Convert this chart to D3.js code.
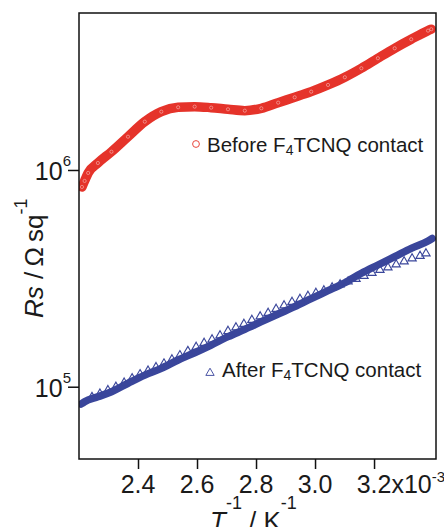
<!DOCTYPE html>
<html>
<head>
<meta charset="utf-8">
<script src="https://cdn.jsdelivr.net/npm/d3@7"></script>
<style>
body{margin:0;background:#fff;}
svg{display:block;font-family:"Liberation Sans",Arial,sans-serif;}
</style>
</head>
<body>
<svg id="rsChart"></svg>
<script>
// T^-1 in units of 1e-3 K^-1, Rs in ohm/sq
var beforeT  = [2.210,2.219,2.231,2.264,2.310,2.366,2.423,2.479,2.536,2.592,2.648,2.705,2.762,2.818,2.875,2.931,2.987,3.044,3.101,3.157,3.213,3.270,3.326,3.383,3.394];
var beforeRs = [8.35e5,8.90e5,9.69e5,1.077e6,1.214e6,1.424e6,1.671e6,1.858e6,1.947e6,1.960e6,1.939e6,1.906e6,1.878e6,1.926e6,2.045e6,2.165e6,2.298e6,2.468e6,2.678e6,2.947e6,3.278e6,3.644e6,4.010e6,4.394e6,4.461e6];

// after contact, dense sweep
var afterT  = [2.207,2.219,2.264,2.310,2.366,2.423,2.479,2.536,2.592,2.648,2.705,2.762,2.818,2.875,2.931,2.987,3.044,3.101,3.157,3.213,3.270,3.326,3.383,3.397];
var afterRs = [8.32e4,8.53e4,8.99e4,9.48e4,1.037e5,1.132e5,1.216e5,1.328e5,1.435e5,1.557e5,1.701e5,1.840e5,1.995e5,2.165e5,2.340e5,2.548e5,2.773e5,3.019e5,3.337e5,3.644e5,3.980e5,4.352e5,4.704e5,4.830e5];

// after contact, second sweep (open triangles)
var afterT2  = [2.244,2.271,2.298,2.325,2.353,2.380,2.407,2.434,2.461,2.488,2.515,2.542,2.569,2.597,2.624,2.651,2.678,2.705,2.732,2.759,2.786,2.814,2.841,2.868,2.895,2.922,2.949,2.976,3.003,3.030,3.058,3.085,3.112,3.139,3.166,3.193,3.220,3.247,3.275,3.302,3.329,3.356,3.376];
var afterRs2 = [8.95e4,9.28e4,9.63e4,9.98e4,1.043e5,1.092e5,1.140e5,1.185e5,1.230e5,1.278e5,1.335e5,1.396e5,1.459e5,1.525e5,1.591e5,1.651e5,1.723e5,1.807e5,1.876e5,1.947e5,2.032e5,2.109e5,2.189e5,2.284e5,2.370e5,2.460e5,2.539e5,2.621e5,2.706e5,2.779e5,2.870e5,2.962e5,3.057e5,3.141e5,3.242e5,3.347e5,3.456e5,3.549e5,3.664e5,3.782e5,3.905e5,4.010e5,4.118e5];

var xTicks = [2.4,2.6,2.8,3.0,3.2];
var xTickLabels = ["2.4","2.6","2.8","3.0","3.2"];
var yTicks = [1e5,1e6];
var yTickExp = ["5","6"];
var seriesNames = ["Before F","After F"];

drawRs("#rsChart");

function drawRs(id){
	var svgWidth = 444, svgHeight = 527;
	var left = 79, top = 13, right = 436, bottom = 459;
	var red = "#e5332a", blue = "#3a469b";

	var svg = d3.select(id).attr("width",svgWidth).attr("height",svgHeight);

	var x = d3.scaleLinear().domain([2.2,3.41]).range([left,right]);
	var y = d3.scaleLog().domain([4.64e4,5.3e6]).range([bottom,top]);

	svg.append("clipPath").attr("id","plotClip")
	   .append("rect").attr("x",left).attr("y",top).attr("width",right-left).attr("height",bottom-top);

	var plot = svg.append("g").attr("clip-path","url(#plotClip)");
	var line = d3.line()
		.x(function(d){ return x(d[0]); })
		.y(function(d){ return y(d[1]); })
		.curve(d3.curveMonotoneX);

	var before = d3.zip(beforeT,beforeRs);
	var after = d3.zip(afterT,afterRs);
	var after2 = d3.zip(afterT2,afterRs2);

	// red band of overlapping open circles
	plot.append("path").datum(before)
		.attr("d",line).attr("fill","none").attr("stroke",red)
		.attr("stroke-width",9.5).attr("stroke-linecap","round").attr("stroke-linejoin","round");
	plot.selectAll("circle.before").data(before).enter()
		.append("circle").attr("class","before")
		.attr("cx",function(d){ return x(d[0]); })
		.attr("cy",function(d){ return y(d[1]); })
		.attr("r",1.6).attr("fill","none").attr("stroke","#fff")
		.attr("stroke-width",0.7).attr("opacity",0.55);

	// blue dense sweep
	plot.append("path").datum(after)
		.attr("d",line).attr("fill","none").attr("stroke",blue)
		.attr("stroke-width",7.5).attr("stroke-linecap","round").attr("stroke-linejoin","round");

	// blue open triangles
	var tri = d3.symbol().type(d3.symbolTriangle).size(30);
	plot.selectAll("path.after2").data(after2).enter()
		.append("path").attr("class","after2")
		.attr("d",tri)
		.attr("transform",function(d){ return "translate(" + x(d[0]) + "," + y(d[1]) + ")"; })
		.attr("fill","none").attr("stroke",blue).attr("stroke-width",1.1);

	// frame
	svg.append("rect").attr("x",left).attr("y",top)
		.attr("width",right-left).attr("height",bottom-top)
		.attr("fill","none").attr("stroke","#111").attr("stroke-width",1.5);

	// x axis
	var xAxis = svg.append("g").attr("transform","translate(0," + bottom + ")")
		.call(d3.axisBottom(x).tickValues(xTicks).tickSize(10).tickSizeOuter(0).tickFormat(""));
	xAxis.select(".domain").remove();
	xAxis.selectAll(".tick line").attr("stroke","#111").attr("stroke-width",1.5);
	xAxis.selectAll(".tick text").remove();
	xTicks.forEach(function(v,i){
		var t = svg.append("text").attr("y",493).attr("font-size","25px").attr("fill","#1a1a1a");
		if(i < xTicks.length-1){
			t.attr("x",x(v)).attr("text-anchor","middle").text(xTickLabels[i]);
		} else {
			t.attr("x",x(v)-17.4).attr("text-anchor","start");
			t.append("tspan").text(xTickLabels[i] + "x10");
			t.append("tspan").attr("font-size","15px").attr("dy",-11).text("-3");
		}
	});

	// y axis
	var yAxis = svg.append("g").attr("transform","translate(" + left + ",0)")
		.call(d3.axisLeft(y).tickValues(yTicks).tickSize(11).tickSizeOuter(0).tickFormat(""));
	yAxis.select(".domain").remove();
	yAxis.selectAll(".tick line").attr("stroke","#111").attr("stroke-width",1.5);
	yAxis.selectAll(".tick text").remove();
	yTicks.forEach(function(v,i){
		var t = svg.append("text").attr("x",71).attr("y",y(v)+10)
			.attr("text-anchor","end").attr("font-size","25px").attr("fill","#1a1a1a");
		t.append("tspan").text("10");
		t.append("tspan").attr("font-size","15px").attr("dy",-14).text(yTickExp[i]);
	});

	// axis titles
	var xt = svg.append("text").attr("y",530).attr("font-size","26px").attr("fill","#1a1a1a");
	xt.append("tspan").attr("x",210).attr("font-style","italic").text("T");
	xt.append("tspan").attr("x",226).attr("dy",-21).attr("font-size","18px").text("-1");
	xt.append("tspan").attr("x",249).attr("dy",21).text("/ K");
	xt.append("tspan").attr("dx",0).attr("dy",-21).attr("font-size","18px").text("-1");

	var yt = svg.append("text").attr("transform","translate(43,318) rotate(-90)")
		.attr("font-size","26px").attr("fill","#1a1a1a");
	yt.append("tspan").attr("font-style","italic").text("Rs");
	yt.append("tspan").text(" /\u2009\u03A9\u2009sq");
	yt.append("tspan").attr("font-size","18px").attr("dy",-16).text("-1");

	// legend
	svg.append("circle").attr("cx",196).attr("cy",144).attr("r",3.4)
		.attr("fill","none").attr("stroke","#e9473e").attr("stroke-width",1);
	svg.append("path").attr("d",tri).attr("transform","translate(210,373)")
		.attr("fill","none").attr("stroke","#4b55a5").attr("stroke-width",1);

	var legendPos = [[207,152],[222,377]];
	seriesNames.forEach(function(name,i){
		var t = svg.append("text").attr("x",legendPos[i][0]).attr("y",legendPos[i][1])
			.attr("font-size","20.5px").attr("fill","#1a1a1a");
		t.append("tspan").text(name);
		t.append("tspan").attr("font-size","14px").attr("dy",3).text("4");
		t.append("tspan").attr("dy",-3).text("TCNQ contact");
	});
}
</script>
</body>
</html>
